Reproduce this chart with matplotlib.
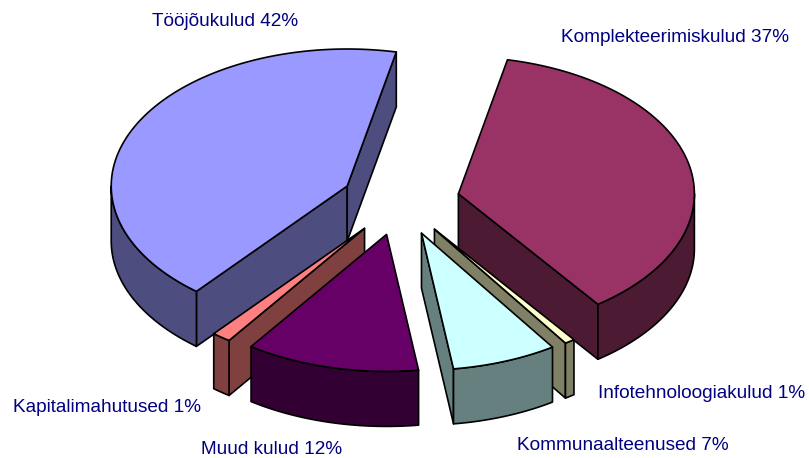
#!/usr/bin/env python3
# -*- coding: utf-8 -*-
"""Exploded 3D pie of cost shares, drawn as projected polygons."""
import numpy as np
import matplotlib
matplotlib.use('Agg')
import matplotlib.pyplot as plt
from matplotlib.patches import Polygon

# clockwise from the first slice
categories = ["Komplekteerimiskulud", "Infotehnoloogiakulud", "Kommunaalteenused",
              "Muud kulud", "Kapitalimahutused", "Tööjõukulud"]
shares = [36.6, 0.7, 7.2, 11.9, 1.3, 42.3]
share_labels = ["37%", "1%", "7%", "12%", "1%", "42%"]
top_colors = ["#993366", "#FFFFCC", "#CCFFFF", "#660066", "#FF8080", "#9999FF"]
side_colors = ["#4D1A33", "#808066", "#668080", "#330033", "#804040", "#4D4D80"]

# label anchors (left edge, vertical centre), pixels
label_x = [561, 598, 517, 201, 13, 152]
label_y = [37, 393, 445, 450, 407, 22]

# back-to-front
draw_order = [5, 0, 4, 1, 3, 2]

START = 12.0        # degrees clockwise from north
CX, CY = 400.5, 201 # pie centre before explosion
RX, RY = 236, 137   # ellipse semi axes
EXPLODE = 59.2      # explosion, in RX units of pixels
DEPTH = 55


def point(theta, cx=0.0, cy=0.0, rx=RX, ry=RY):
    t = np.radians(theta)
    return np.column_stack((cx + rx * np.sin(t), cy - ry * np.cos(t)))


def down(pts):
    return pts + np.array([0, DEPTH])


def face(ax, pts, color):
    ax.add_patch(Polygon(pts, closed=True, facecolor=color, edgecolor='black',
                         linewidth=1.2, joinstyle='round'))


def edge_visible(d, m):
    # the wall under an edge shows if the slice lies on the far side from "down"
    return d[0] * (d[0] * m[1] - d[1] * m[0]) < 0


fig = plt.figure(figsize=(8.09, 4.58), dpi=100)
ax = fig.add_axes([0, 0, 1, 1])
ax.set_xlim(0, 809)
ax.set_ylim(458, 0)
ax.axis('off')

edges = START + np.concatenate(([0], np.cumsum(shares))) * 3.6

for i in draw_order:
    a0, a1 = edges[i], edges[i + 1]
    mid = (a0 + a1) / 2
    apex = point(mid, CX, CY, EXPLODE, EXPLODE * RY / RX)[0]
    arc = point(np.linspace(a0, a1, 200), apex[0], apex[1])
    m = point(mid)[0]

    for theta, end in ((a0, arc[0]), (a1, arc[-1])):
        if edge_visible(point(theta)[0], m):
            wall = np.array([apex, end, end + [0, DEPTH], apex + [0, DEPTH]])
            face(ax, wall, side_colors[i])

    # outer wall only where the rim faces the viewer
    lo, hi = max(a0, 90), min(a1, 270)
    if hi > lo:
        rim = point(np.linspace(lo, hi, 200), apex[0], apex[1])
        face(ax, np.vstack((rim, down(rim)[::-1])), side_colors[i])

    face(ax, np.vstack(([apex], arc)), top_colors[i])

for name, pct, x, y in zip(categories, share_labels, label_x, label_y):
    ax.text(x, y, f"{name} {pct}", color='#000080', fontsize=13.7,
            family='Liberation Sans', ha='left', va='center')

fig.savefig('out.png', dpi=100)
plt.close(fig)
